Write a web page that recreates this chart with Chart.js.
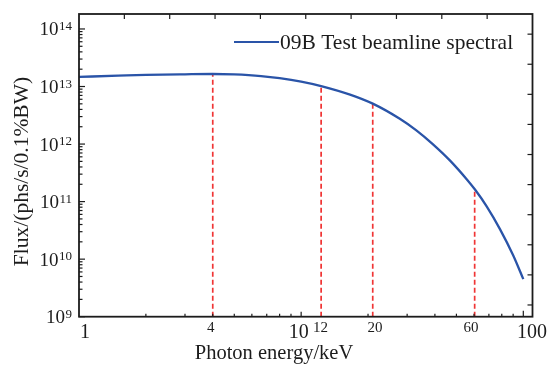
<!DOCTYPE html>
<html><head><meta charset="utf-8">
<script src="https://cdn.jsdelivr.net/npm/chart.js@4.4.1/dist/chart.umd.min.js"></script>
<style>html,body{margin:0;padding:0;background:#fff;}canvas{display:block;}</style>
</head><body>
<canvas id="c" width="548" height="365"></canvas>
<script>
// ---- data ----
const energy = [1, 1.5, 2, 3, 4, 5, 6.6, 8, 10, 12.3, 16.6, 21, 27.8, 33, 39, 46.7, 55.6, 60.6, 68.4, 78.5, 90, 100];
const flux = [1.47e13, 1.54e13, 1.59e13, 1.63e13, 1.65e13, 1.62e13, 1.52e13, 1.40e13, 1.22e13, 1.02e13, 7.24e12, 5.04e12, 2.75e12, 1.73e12, 1.01e12, 5.21e11, 2.45e11, 1.62e11, 8.28e10, 3.33e10, 1.17e10, 4.5e9];
const markerEnergy = [4, 12.3, 21, 60.4];
const markerFlux = [1.65e13, 1.02e13, 5.04e12, 1.65e11];
const markerLabels = ['4', '12', '20', '60'];
const majorEnergyTicks = [1, 10, 100];
const fluxExponents = [9, 10, 11, 12, 13, 14];
const topTicks = [1, 2, 3, 4, 5, 6, 7, 8, 9];
const rightTicks = [0, 1, 2, 3, 4, 5, 6, 7, 8, 9];
const seriesName = '09B Test beamline spectral';
const xTitle = 'Photon energy/keV';
const yTitle = 'Flux/(phs/s/0.1%BW)';

// ---- style ----
const SERIF = '"Liberation Serif", "Times New Roman", serif';
const INK = '#1c1c1c';
const BLUE = '#2a54a8';
const RED = '#f03535';
const majorLabelNudge = [6, -2.5, 8.6];
const markerLabelNudge = [-2, -0.5, 2.3, -3.7];

const decor = {
  id: 'decor',
  afterDatasetsDraw(chart) {
    const { ctx, chartArea: a, scales } = chart;
    const x = scales.x, y = scales.y, x2 = scales.x2, y2 = scales.y2;
    ctx.save();
    ctx.strokeStyle = INK;
    ctx.lineWidth = 1.2;
    const seg = (ax, ay, bx, by) => { ctx.beginPath(); ctx.moveTo(ax, ay); ctx.lineTo(bx, by); ctx.stroke(); };
    // left ticks (log, inward)
    fluxExponents.forEach(e => {
      for (let m = 1; m <= 9; m++) {
        const v = m * Math.pow(10, e);
        if (v > y.max * 1.0001) break;
        const py = y.getPixelForValue(v);
        seg(a.left, py, a.left + (m === 1 ? 6 : 3.5), py);
      }
    });
    // bottom ticks (log, inward)
    [0, 1].forEach(e => {
      for (let m = 1; m <= 9; m++) {
        const v = m * Math.pow(10, e);
        if (v === 1) continue;
        const px = x.getPixelForValue(v);
        seg(px, a.bottom, px, a.bottom - (m === 1 ? 5 : 3));
      }
    });
    { const px = x.getPixelForValue(100); seg(px, a.bottom, px, a.bottom - 6); }
    // top ticks
    topTicks.forEach(v => { const px = x2.getPixelForValue(v); seg(px, a.top, px, a.top + 5); });
    // right ticks
    rightTicks.forEach(v => { const py = y2.getPixelForValue(v); seg(a.right, py, a.right - 5, py); });
    // frame
    ctx.lineWidth = 1.8;
    ctx.strokeRect(a.left, a.top, a.right - a.left, a.bottom - a.top);

    ctx.fillStyle = INK;
    // y tick labels 10^n
    const rightEdge = a.left - 7;
    ctx.textBaseline = 'alphabetic';
    ctx.textAlign = 'right';
    fluxExponents.forEach(e => {
      const py = y.getPixelForValue(Math.pow(10, e));
      ctx.font = `13px ${SERIF}`;
      const w = ctx.measureText(String(e)).width;
      ctx.fillText(String(e), rightEdge, py + 1);
      ctx.font = `19px ${SERIF}`;
      ctx.fillText('10', rightEdge - w - 0.5, py + 6.5);
    });
    // x tick labels
    ctx.textAlign = 'center';
    ctx.font = `20px ${SERIF}`;
    majorEnergyTicks.forEach((v, i) => {
      ctx.fillText(String(v), x.getPixelForValue(v) + majorLabelNudge[i], 338);
    });
    ctx.font = `15px ${SERIF}`;
    markerEnergy.forEach((v, i) => {
      ctx.fillText(markerLabels[i], x.getPixelForValue(v) + markerLabelNudge[i], 331.5);
    });
    // axis titles
    ctx.font = `20.5px ${SERIF}`;
    ctx.fillText(xTitle, 274, 358.5);
    ctx.save();
    ctx.translate(28.3, 171.5);
    ctx.rotate(-Math.PI / 2);
    ctx.font = `21.5px ${SERIF}`;
    ctx.fillText(yTitle, 0, 0);
    ctx.restore();
    // legend
    ctx.strokeStyle = BLUE;
    ctx.lineWidth = 2.2;
    seg(234, 42, 279, 42);
    ctx.textAlign = 'left';
    ctx.font = `21.5px ${SERIF}`;
    ctx.fillText(seriesName, 280, 48.5);
    ctx.restore();
  }
};

const datasets = [{
  label: seriesName,
  data: energy.map((e, i) => ({ x: e, y: flux[i] })),
  borderColor: BLUE,
  borderWidth: 2.3,
  pointRadius: 0,
  cubicInterpolationMode: 'monotone',
  fill: false
}];
markerEnergy.forEach((e, i) => {
  datasets.push({
    label: 'marker ' + markerLabels[i],
    data: [{ x: e, y: 1e9 }, { x: e, y: markerFlux[i] }],
    borderColor: RED,
    borderWidth: 1.7,
    borderDash: [5, 3],
    pointRadius: 0,
    tension: 0,
    fill: false
  });
});

new Chart(document.getElementById('c'), {
  type: 'line',
  data: { datasets },
  options: {
    responsive: false,
    animation: false,
    devicePixelRatio: 1,
    layout: { padding: { left: 79, top: 14, right: 15.5, bottom: 48.3 } },
    plugins: { legend: { display: false }, tooltip: { enabled: false } },
    scales: {
      x: { type: 'logarithmic', min: 1, max: 110, display: false },
      y: { type: 'logarithmic', min: 1e9, max: 1.82e14, display: false },
      x2: { type: 'linear', position: 'top', min: 0, max: 10, display: false },
      y2: { type: 'linear', position: 'right', min: -0.39, max: 9.67, display: false }
    }
  },
  plugins: [decor]
});
</script>
</body></html>
